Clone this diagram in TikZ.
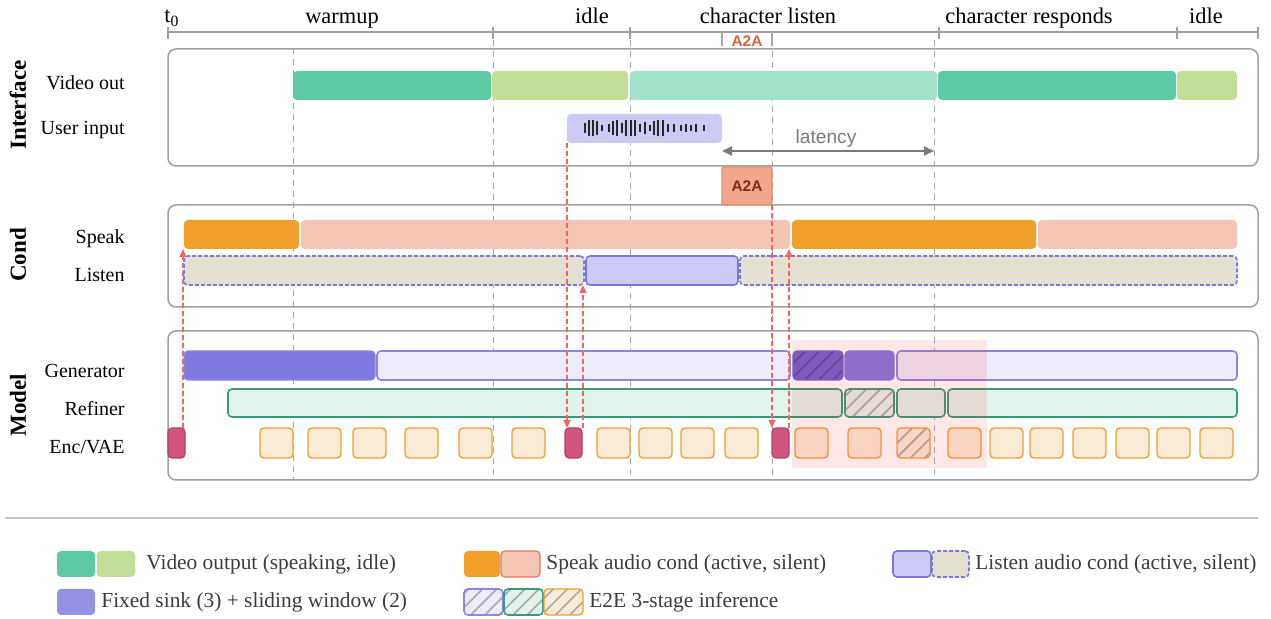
\documentclass[tikz,border=0pt]{standalone}
\usepackage{fontspec}
\setmainfont{Liberation Serif}
\newfontfamily\uisans{Liberation Sans}
\usetikzlibrary{fit,positioning,arrows.meta,patterns.meta}

\definecolor{vidspeak}{HTML}{5DC9A5}
\definecolor{vididle}{HTML}{C2DE98}
\definecolor{vidlisten}{HTML}{A2E2C9}
\definecolor{userin}{HTML}{CCCBF4}
\definecolor{speakon}{HTML}{F0A028}
\definecolor{speakoff}{HTML}{F4C4B5}
\definecolor{speakline}{HTML}{E07A5C}
\definecolor{listenon}{HTML}{CDCBF5}
\definecolor{listenoff}{HTML}{E4E0D2}
\definecolor{listenline}{HTML}{7B78DD}
\definecolor{genfull}{HTML}{7F78DE}
\definecolor{genpale}{HTML}{EDEBFC}
\definecolor{genline}{HTML}{8C86E2}
\definecolor{gendark}{HTML}{7062D0}
\definecolor{gendarkline}{HTML}{5643A8}
\definecolor{sinkfill}{HTML}{9590E3}
\definecolor{refpale}{HTML}{E0F4EC}
\definecolor{refline}{HTML}{3A9A78}
\definecolor{encpale}{HTML}{FAEBD7}
\definecolor{encline}{HTML}{F0A030}
\definecolor{keyfill}{HTML}{D25580}
\definecolor{keyline}{HTML}{B04068}
\definecolor{a2afill}{HTML}{F2A68C}
\definecolor{a2aline}{HTML}{E0906F}
\definecolor{a2atext}{HTML}{7A2E14}
\definecolor{a2amark}{HTML}{E0603A}
\definecolor{cuered}{HTML}{F46464}
\definecolor{hatchgray}{HTML}{A8A8A8}
\definecolor{panelgray}{HTML}{A0A0A0}
\definecolor{guidegray}{HTML}{A8A8A8}
\definecolor{latgray}{HTML}{7A7A7A}
\definecolor{legendgray}{HTML}{3C3C3C}
\definecolor{zonered}{HTML}{FF2020}

\tikzset{
  seg/.style={rectangle, inner sep=0pt, outer sep=0pt, rounded corners=2pt},
  vidon/.style={seg, fill=vidspeak},
  vidoff/.style={seg, fill=vididle},
  vidwait/.style={seg, fill=vidlisten},
  spkon/.style={seg, fill=speakon},
  spkoff/.style={seg, fill=speakoff},
  lston/.style={seg, fill=listenon, draw=listenline, line width=0.8pt},
  lstoff/.style={seg, fill=listenoff, draw=listenline, line width=0.8pt, dash pattern=on 2pt off 1pt},
  gensolid/.style={seg, fill=genfull, draw=genline, line width=0.6pt},
  genwin/.style={seg, fill=genpale, draw=genline, line width=0.8pt},
  refwin/.style={seg, fill=refpale, draw=refline, line width=0.8pt},
  enctile/.style={seg, fill=encpale, draw=encline, line width=0.7pt},
  enckey/.style={seg, fill=keyfill, draw=keyline, line width=0.6pt},
  hatched/.style={pattern={Lines[angle=45, distance=5pt, line width=0.8pt]}, pattern color=#1},
  panel/.style={rectangle, draw=panelgray, line width=0.75pt, rounded corners=4pt, inner sep=0pt},
  guide/.style={draw=guidegray, line width=0.5pt, dash pattern=on 3pt off 2.5pt},
  axisline/.style={draw=panelgray, line width=0.6pt},
  cue/.style={draw=cuered, line width=0.6pt, dash pattern=on 2.5pt off 1.5pt, -{Triangle[length=4pt, width=3.5pt]}},
  rowlabel/.style={anchor=mid east, inner sep=0pt, font=\fontsize{10}{12}\selectfont},
  phase/.style={anchor=base, inner sep=0pt, font=\fontsize{11.2}{13}\selectfont},
  section/.style={rotate=90, inner sep=0pt, font=\fontsize{11.5}{13}\selectfont\bfseries},
  legendtext/.style={anchor=west, inner sep=1pt, text=legendgray, font=\fontsize{10.7}{13}\selectfont},
}

\begin{document}
\begin{tikzpicture}[x=0.5pt, y=-0.5pt]
\useasboundingbox (0,0) rectangle (1271,619);

% time axis with phases
\draw[axisline] (168,32) -- (1258,32);
\foreach \x in {168,493,630,939,1177,1258}
  \draw[axisline] (\x,27) -- (\x,39);
\draw[draw=guidegray, line width=0.6pt] (722,32) -- (722,46);
\draw[draw=guidegray, line width=0.6pt] (772,32) -- (772,46);
\node[phase] (tzero) at (172,23) {t\textsubscript{0}};
\node[phase] (pwarm) at (342,24) {warmup};
\node[phase] (pidle) at (592,24) {idle};
\node[phase] (plisten) at (768,24) {character listen};
\node[phase] (presp) at (1029,24) {character responds};
\node[phase] (pidletwo) at (1206,24) {idle};
\node[text=a2amark, font=\uisans\fontsize{7.7}{9}\selectfont\bfseries] (a2amarker) at (747,41) {A2A};

% phase boundaries
\draw[guide] (293,48) -- (293,480);
\foreach \x in {493,630,772,934}
  \draw[guide] (\x,40) -- (\x,480);

% panels
\node[panel, fit={(168,49) (1258,166)}] (iface) {};
\node[panel, fit={(168,205) (1258,307)}] (cond) {};
\node[panel, fit={(168,331) (1258,480)}] (model) {};

\node[section] (secif) at (18,105) {Interface};
\node[section] (secco) at (18,255) {Cond};
\node[section] (secmo) at (18,405) {Model};

\node[rowlabel] (lvid) at (125,85) {Video out};
\node[rowlabel] (luser) at (125,130) {User input};
\node[rowlabel] (lspk) at (125,239) {Speak};
\node[rowlabel] (llst) at (125,277) {Listen};
\node[rowlabel] (lgen) at (125,373) {Generator};
\node[rowlabel] (lref) at (125,411) {Refiner};
\node[rowlabel] (lenc) at (125,449) {Enc/VAE};

% interface rows
\node[vidon, fit={(293,71) (491,100)}] (vidwarm) {};
\node[vidoff, fit={(492,71) (628,100)}] (vididleone) {};
\node[vidwait, fit={(630,71) (937,100)}] (vidwaiting) {};
\node[vidon, fit={(938,71) (1176,100)}] (vidresp) {};
\node[vidoff, fit={(1177,71) (1237,100)}] (vididletwo) {};

\node[seg, fill=userin, fit={(567,114) (722,143)}] (userbox) {};
\foreach \x/\h in {585/5,589/8,593/8,597/7,602/3,609/4,613/7,617/8,622/5,626/8,631/8,635/8,640/4,645/6,650/3,654/7,658/8,663/8,668/4,674/4,681/3,686/4,691/3,696/4,704/3}
  \draw[line width=0.85pt, black!85] (\x,128-\h) -- (\x,128+\h);

\coordinate (latleft) at (722,151);
\coordinate (latright) at (934,151);
\draw[latgray, line width=0.9pt, {Triangle[length=5pt, width=4.5pt]}-{Triangle[length=5pt, width=4.5pt]}] (latleft) -- (latright);
\node[text=latgray, font=\uisans\fontsize{9.6}{11}\selectfont] (latlabel) at (826,139) {latency};

\node[seg, rounded corners=1pt, fill=a2afill, draw=a2aline, line width=0.6pt, fit={(722,167) (772,205)}] (a2abox) {};
\node[text=a2atext, font=\uisans\fontsize{7.7}{9}\selectfont\bfseries] (a2alabel) at (a2abox.center) {A2A};

% conditioning rows
\node[spkon, fit={(184,220) (299,249)}] (spkwarm) {};
\node[spkoff, fit={(301,220) (790,249)}] (spkidle) {};
\node[spkon, fit={(792,220) (1036,249)}] (spkresp) {};
\node[spkoff, fit={(1038,220) (1237,249)}] (spkend) {};

\node[lstoff, fit={(184,256) (584,285)}] (lstwait) {};
\node[lston, fit={(586,256) (738,285)}] (lstact) {};
\node[lstoff, fit={(740,256) (1237,285)}] (lstafter) {};

% model rows
\node[gensolid, fit={(184,351) (375,380)}] (genwarm) {};
\node[genwin, fit={(377,351) (790,380)}] (genwin) {};
\node[seg, preaction={fill=gendark}, hatched=gendarkline, draw=gendark, line width=0.6pt, fit={(793,351) (843,380)}] (genhatch) {};
\node[gensolid, draw=genfull, fit={(845,351) (894,380)}] (gensink) {};
\node[genwin, fit={(897,351) (1237,380)}] (genrest) {};

\node[refwin, fit={(228,389) (842,417)}] (refmain) {};
\node[refwin, preaction={fill=refpale}, hatched=hatchgray, fit={(845,389) (894,417)}] (refhatch) {};
\node[refwin, fit={(897,389) (945,417)}] (refmid) {};
\node[refwin, fit={(948,389) (1237,417)}] (refrest) {};

\node[enckey, fit={(168,428) (185,458)}] (keyone) {};
\node[enckey, fit={(565,428) (582,458)}] (keytwo) {};
\node[enckey, fit={(772,428) (789,458)}] (keythree) {};
\foreach \x [count=\i] in {260,308,353,405,459,512,597,639,681,725,795,848,948,990,1030,1073,1116,1157,1200}
  \node[enctile, fit={(\x,428) (\x+33,458)}] (enc\i) {};
\node[enctile, preaction={fill=encpale}, hatched=hatchgray, fit={(897,428) (930,458)}] (enchatch) {};

% end-to-end window
\fill[zonered, fill opacity=0.11] (792,340) rectangle (987,468);

% audio cues
\draw[cue] ([xshift=-1pt]keyone.north east) -- ([xshift=-1pt]keyone.north east |- spkwarm.south);
\draw[cue] (userbox.south west) -- (userbox.south west |- keytwo.north);
\draw[cue] ([xshift=0.5pt]keytwo.north east) -- ([xshift=0.5pt]keytwo.north east |- lstwait.south);
\draw[cue] (a2abox.south east) -- (a2abox.south east |- keythree.north);
\draw[cue] (keythree.north east) -- (keythree.north east |- spkidle.south);

% legend
\draw[draw=black!22, line width=0.6pt] (5,518) -- (1258,518);

\node[vidon, fit={(57,551) (95,577)}] (lgvidon) {};
\node[vidoff, fit={(97,551) (135,577)}] (lgvidoff) {};
\node[legendtext, right=4.5pt of lgvidoff] (txvid) {Video output (speaking, idle)};

\node[spkon, fit={(464,551) (500,577)}] (lgspkon) {};
\node[spkoff, draw=speakline, line width=0.6pt, fit={(501,551) (540,577)}] (lgspkoff) {};
\node[legendtext, right=2pt of lgspkoff] (txspk) {Speak audio cond (active, silent)};

\node[lston, fit={(893,551) (931,577)}] (lglston) {};
\node[lstoff, fit={(932,551) (969,577)}] (lglstoff) {};
\node[legendtext, right=2pt of lglstoff] (txlst) {Listen audio cond (active, silent)};

\node[seg, fill=sinkfill, fit={(57,589) (95,615)}] (lgsink) {};
\node[legendtext, right=2pt of lgsink] (txsink) {Fixed sink (3) + sliding window (2)};

\node[genwin, preaction={fill=genpale}, hatched=hatchgray, fit={(464,589) (503,615)}] (lggen) {};
\node[refwin, preaction={fill=refpale}, hatched=hatchgray, fit={(504,589) (543,615)}] (lgref) {};
\node[enctile, preaction={fill=encpale}, hatched=hatchgray, fit={(544,589) (583,615)}] (lgenc) {};
\node[legendtext, right=2pt of lgenc] (txetoe) {E2E 3-stage inference};
\end{tikzpicture}
\end{document}
